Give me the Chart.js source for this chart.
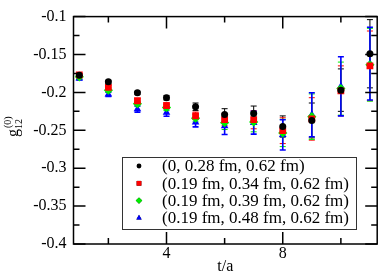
<!DOCTYPE html>
<html>
<head>
<meta charset="utf-8">
<script src="https://cdn.jsdelivr.net/npm/chart.js@4.4.0/dist/chart.umd.min.js"></script>
<style>
  html, body { margin: 0; padding: 0; background: #fff; }
  #wrap { width: 382px; height: 273px; }
</style>
</head>
<body>
<div id="wrap"><canvas id="chart" width="382" height="273"></canvas></div>
<script>
const tValues = [1, 2, 3, 4, 5, 6, 7, 8, 9, 10, 11];

const labels = ['(0, 0.28 fm, 0.62 fm)', '(0.19 fm, 0.34 fm, 0.62 fm)', '(0.19 fm, 0.39 fm, 0.62 fm)', '(0.19 fm, 0.48 fm, 0.62 fm)'];
const colors = ['#000000', '#ff0000', '#00ee00', '#0000ff'];
const styles = ['circle', 'rect', 'rectRot', 'triangle'];

const blackVals = [-0.1775, -0.186, -0.2005, -0.207, -0.219, -0.229, -0.228, -0.245, -0.237, -0.197, -0.149];
const blackErr = [0.002, 0.002, 0.002, 0.003, 0.005, 0.0075, 0.010, 0.014, 0.023, 0.028, 0.045];
const redVals = [-0.177, -0.1935, -0.211, -0.2175, -0.231, -0.236, -0.236, -0.2505, -0.235, -0.198, -0.165];
const redErr = [0.002, 0.003, 0.003, 0.004, 0.005, 0.008, 0.012, 0.017, 0.028, 0.033, 0.046];
const greenVals = [-0.1795, -0.197, -0.215, -0.220, -0.234, -0.240, -0.239, -0.2535, -0.232, -0.195, -0.1635];
const greenErr = [0.002, 0.003, 0.003, 0.004, 0.005, 0.009, 0.013, 0.018, 0.030, 0.035, 0.048];
const blueVals = [-0.1815, -0.2025, -0.222, -0.2265, -0.2395, -0.2445, -0.240, -0.256, -0.2295, -0.192, -0.162];
const blueErr = [0.002, 0.003, 0.004, 0.005, 0.006, 0.011, 0.015, 0.020, 0.029, 0.039, 0.048];

const xMajorTicks = [4, 8];
const xMinorTicks = [2, 6, 10];
const yMajorTicks = [-0.4, -0.35, -0.3, -0.25, -0.2, -0.15, -0.1];
const yTickLabels = ['-0.4', '-0.35', '-0.3', '-0.25', '-0.2', '-0.15', '-0.1'];
const yMinorTicks = [-0.375, -0.325, -0.275, -0.225, -0.175, -0.125];

const allVals = [blackVals, redVals, greenVals, blueVals];
const allErr = [blackErr, redErr, greenErr, blueErr];
const radii = [3.5, 4.8, 4.6, 4.4];
const errWidths = [1, 1, 1, 1.6];
const FONT = 'Liberation Serif';

const datasets = allVals.map((vals, i) => ({
  label: labels[i],
  data: tValues.map((t, j) => ({ x: t, y: vals[j] })),
  errors: allErr[i],
  errWidth: errWidths[i],
  backgroundColor: colors[i],
  borderColor: colors[i],
  borderWidth: 0,
  pointStyle: styles[i],
  pointRadius: radii[i],
  pointHoverRadius: radii[i],
  showLine: false
}));

// inward ticks on all 4 sides, the frame, error bars, legend and titles
const decor = {
  id: 'decor',
  beforeDatasetsDraw(chart) {
    const ctx = chart.ctx;
    const xs = chart.scales.x, ys = chart.scales.y;
    ctx.save();
    chart.data.datasets.forEach((ds) => {
      ctx.strokeStyle = ds.borderColor;
      ctx.lineWidth = ds.errWidth;
      ds.data.forEach((p, j) => {
        const e = ds.errors[j];
        const px = xs.getPixelForValue(p.x);
        const top = ys.getPixelForValue(p.y + e);
        const bot = ys.getPixelForValue(p.y - e);
        ctx.beginPath();
        ctx.moveTo(px, top); ctx.lineTo(px, bot);
        ctx.moveTo(px - 3, top); ctx.lineTo(px + 3, top);
        ctx.moveTo(px - 3, bot); ctx.lineTo(px + 3, bot);
        ctx.stroke();
      });
    });
    ctx.restore();
  },
  afterDraw(chart) {
    const ctx = chart.ctx;
    const a = chart.chartArea;
    const xs = chart.scales.x, ys = chart.scales.y;
    ctx.save();
    ctx.strokeStyle = '#000';
    ctx.lineWidth = 1.5;
    ctx.strokeRect(a.left, a.top, a.right - a.left, a.bottom - a.top);
    ctx.beginPath();
    const tick = (v, len, isX) => {
      if (isX) {
        const p = xs.getPixelForValue(v);
        ctx.moveTo(p, a.bottom); ctx.lineTo(p, a.bottom - len);
        ctx.moveTo(p, a.top); ctx.lineTo(p, a.top + len);
      } else {
        const p = ys.getPixelForValue(v);
        ctx.moveTo(a.left, p); ctx.lineTo(a.left + len, p);
        ctx.moveTo(a.right, p); ctx.lineTo(a.right - len, p);
      }
    };
    xMajorTicks.forEach(v => tick(v, 12, true));
    xMinorTicks.forEach(v => tick(v, 6, true));
    yMajorTicks.forEach(v => tick(v, 12, false));
    yMinorTicks.forEach(v => tick(v, 6, false));
    ctx.stroke();

    // legend
    const lx = 122, ly = 157, lw = 234, lh = 72;
    ctx.fillStyle = '#fff';
    ctx.fillRect(lx, ly, lw, lh);
    ctx.lineWidth = 1;
    ctx.strokeStyle = '#333';
    ctx.strokeRect(lx + 0.5, ly + 0.5, lw, lh);
    ctx.font = '17px "' + FONT + '"';
    ctx.textBaseline = 'middle';
    ctx.textAlign = 'left';
    chart.data.datasets.forEach((ds, i) => {
      const y = ly + 9 + i * 17.3;
      Chart.helpers.drawPoint(ctx, {
        pointStyle: ds.pointStyle, radius: ds.pointRadius * 0.7,
        rotation: 0, borderWidth: 0
      }, lx + 17, y);
      ctx.fillStyle = ds.backgroundColor;
      ctx.fill();
      ctx.fillStyle = '#000';
      ctx.fillText(ds.label, lx + 40, y + 1);
    });

    // axis titles
    ctx.fillStyle = '#000';
    ctx.font = '16px "' + FONT + '"';
    ctx.textAlign = 'center';
    ctx.textBaseline = 'middle';
    ctx.fillText('t/a', (a.left + a.right) / 2, 267);

    ctx.translate(18, 137);
    ctx.rotate(-Math.PI / 2);
    ctx.textAlign = 'left';
    ctx.textBaseline = 'alphabetic';
    ctx.font = '16px "' + FONT + '"';
    ctx.fillText('g', 0, 0);
    const gw = ctx.measureText('g').width;
    ctx.font = '10px "' + FONT + '"';
    ctx.fillText('12', gw, 3.5);
    ctx.fillText('(0)', gw + 1, -7);
    ctx.restore();
  }
};

new Chart(document.getElementById('chart'), {
  type: 'scatter',
  data: { datasets: datasets },
  options: {
    responsive: false,
    animation: false,
    events: [],
    layout: { padding: { top: 5, right: 1.5, left: 0, bottom: 0 } },
    plugins: { legend: { display: false }, tooltip: { enabled: false } },
    scales: {
      x: {
        type: 'linear',
        min: 0.8,
        max: 11.25,
        grid: { display: false, drawTicks: false },
        border: { display: false },
        afterBuildTicks: s => { s.ticks = xMajorTicks.map(v => ({ value: v })); },
        afterFit: s => { s.height = 29; },
        ticks: {
          autoSkip: false,
          maxRotation: 0,
          padding: 0,
          color: '#000',
          font: { family: FONT, size: 16 },
          callback: v => String(v)
        }
      },
      y: {
        type: 'linear',
        min: -0.4,
        max: -0.1,
        grid: { display: false, drawTicks: false },
        border: { display: false },
        afterBuildTicks: s => { s.ticks = yMajorTicks.map(v => ({ value: v })); },
        afterFit: s => { s.width = 73.5; },
        ticks: {
          autoSkip: false,
          padding: 7,
          color: '#000',
          font: { family: FONT, size: 16 },
          callback: (v, i) => yTickLabels[i]
        }
      }
    }
  },
  plugins: [decor]
});
</script>
</body>
</html>
